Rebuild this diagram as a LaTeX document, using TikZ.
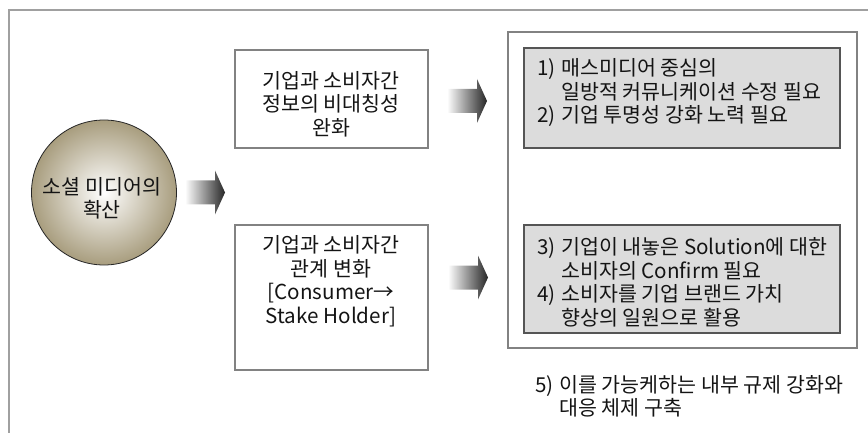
\documentclass[tikz,border=0pt]{standalone}
\usepackage{fontspec}
\setmainfont{Noto Sans CJK KR}
\usetikzlibrary{shapes.geometric}
\definecolor{framegray}{RGB}{160,160,160}
\definecolor{boxgray}{RGB}{130,130,130}
\definecolor{greyfill}{RGB}{220,220,220}
\definecolor{greyline}{RGB}{85,85,85}
\definecolor{tan}{RGB}{168,157,126}
\definecolor{txtcol}{RGB}{20,20,20}
\newcommand{\fatarw}[4]{%
  \shade[left color=white, right color=black!85]
    (#1,#2-12) -- (#1+#3,#2-12) -- (#1+#3,#2-22) -- (#1+#3+#4,#2)
    -- (#1+#3,#2+22) -- (#1+#3,#2+12) -- (#1,#2+12) -- cycle;}
\newcommand{\hang}[1]{\makebox[24pt][l]{#1}}
\begin{document}
\begin{tikzpicture}[x=1pt,y=-1pt,
  txt/.style={inner sep=0pt, text=txtcol, font=\fontsize{20.6}{23.5}\selectfont},
  wbox/.style={draw=boxgray, line width=1.1pt},
  gbox/.style={draw=greyline, fill=greyfill, line width=1.2pt}]
\useasboundingbox (0,0) rectangle (868,433);
% outer frame
\draw[framegray, line width=1.8pt] (9,433) -- (9,10) -- (868,10);
% circle
\shade[inner color=white, outer color=tan] (104,192.5) circle (72.5);
\draw[black!85, line width=0.8pt] (104,192.5) circle (72.5);
\node[txt, align=center] (circ) at (102,198.5) {소셜 미디어의\\확산};
% white boxes
\draw[wbox] (235,50) rectangle (428,148);
\node[txt, align=center] (b1) at (331,104) {기업과 소비자간\\정보의 비대칭성\\완화};
\draw[wbox] (235,225) rectangle (428,370);
\node[txt, align=center] (b2) at (331,281) {기업과 소비자간\\관계 변화\\{}[Consumer→\\Stake Holder]};
% arrows
\fatarw{185}{192.5}{30}{10}
\fatarw{447}{101}{30}{10}
\fatarw{448}{277.5}{30}{10}
% right frame
\draw[wbox] (508,32) rectangle (857,348);
\draw[gbox] (524,48) rectangle (840,148);
\draw[gbox] (524,225) rectangle (840,333);
\node[txt, align=left, anchor=west] (g1) at (537,93) {\hang{1)}매스미디어 중심의\\\hang{}일방적 커뮤니케이션 수정 필요\\\hang{2)}기업 투명성 강화 노력 필요};
\node[txt, align=left, anchor=west] (g2) at (537,282.5) {\hang{3)}기업이 내놓은 Solution에 대한\\\hang{}소비자의 Confirm 필요\\\hang{4)}소비자를 기업 브랜드 가치\\\hang{}향상의 일원으로 활용};
\node[txt, align=left, anchor=west] (t5) at (535,396.5) {\hang{5)}이를 가능케하는 내부 규제 강화와\\\hang{}대응 체제 구축};
\end{tikzpicture}
\end{document}
